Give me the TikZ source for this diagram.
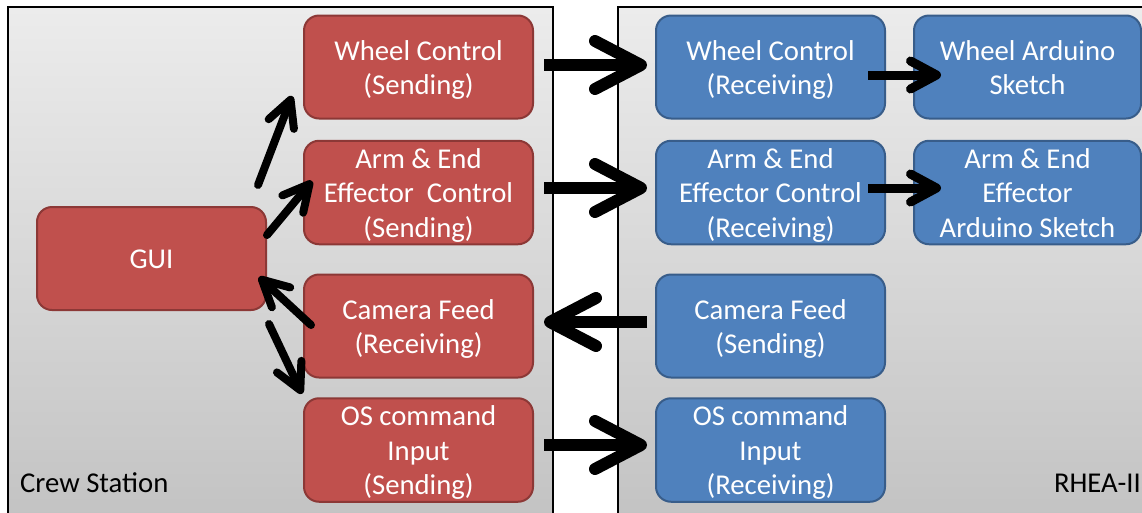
\documentclass[tikz,border=0pt]{standalone}
\usepackage{fontspec}
\setmainfont{Carlito}
\usetikzlibrary{arrows.meta}
\definecolor{redfill}{HTML}{C0504D}
\definecolor{redline}{HTML}{8C3836}
\definecolor{bluefill}{HTML}{4F81BD}
\definecolor{blueline}{HTML}{385D8A}
\definecolor{paneltop}{HTML}{ECECEC}
\definecolor{panelbot}{HTML}{C2C2C2}
\newcommand\bt[1]{\raisebox{-3.5pt}[\height][\depth]{\begin{tabular}{@{}c@{}}#1\end{tabular}}}
\begin{document}
\begin{tikzpicture}[x=1pt,y=-1pt,
  txt/.style={font=\fontsize{28.7}{34.5}\selectfont},
  box/.style={txt, rounded corners=15pt, line width=2pt, minimum width=229pt,
    minimum height=103pt, text=white, inner sep=0pt},
  redbox/.style={box, fill=redfill, draw=redline},
  bluebox/.style={box, fill=bluefill, draw=blueline},
  bigarrow/.style={line width=12pt, -{Straight Barb[length=46pt,width=48pt,round]}},
  smallarrow/.style={line width=9pt, -{Straight Barb[length=26pt,width=28pt,round]}},
  diagarrow/.style={line width=8pt, line cap=round, -{Straight Barb[length=26pt,width=27pt,round]}},
  panel/.style={top color=paneltop, bottom color=panelbot},
  panelline/.style={line width=1.5pt, draw=black}
]
\useasboundingbox (0,0) rectangle (1142,512);
\clip (0,0) rectangle (1142,512);
% panels
\shade[panel] (8,7) rectangle (553,530);
\draw[panelline] (8,530) -- (8,7) -- (553,7) -- (553,530);
\shade[panel] (618,7) rectangle (1160,530);
\draw[panelline] (618,530) -- (618,7) -- (1160,7);
% crew station boxes
\node[redbox] (wcs) at (418.5,67) {\bt{Wheel Control\\(Sending)}};
\node[redbox] (aes) at (418.5,192.5) {\bt{Arm \& End\\Effector~ Control\\(Sending)}};
\node[redbox] (gui) at (151.5,258.5) {\bt{GUI}};
\node[redbox] (cfr) at (418.5,326) {\bt{Camera Feed\\(Receiving)}};
\node[redbox] (osi) at (418.5,450) {\bt{OS command\\Input\\(Sending)}};
% rhea boxes
\node[bluebox] (wcr) at (770.5,67) {\bt{Wheel Control\\(Receiving)}};
\node[bluebox, minimum width=227pt] (was) at (1027.5,67) {\bt{Wheel Arduino\\Sketch}};
\node[bluebox] (aer) at (770.5,192.5) {\bt{Arm \& End\\Effector Control\\(Receiving)}};
\node[bluebox, minimum width=227pt] (aas) at (1027.5,192.5) {\bt{Arm \& End\\Effector\\Arduino Sketch}};
\node[bluebox] (cfs) at (770.5,326) {\bt{Camera Feed\\(Sending)}};
\node[bluebox] (osr) at (770.5,450) {\bt{OS command\\Input\\(Receiving)}};
% labels
\node[txt, anchor=base west, inner sep=0pt] (crew) at (20,492) {Crew Station};
\node[txt, anchor=base east, inner sep=0pt] (rhea) at (1141,492) {RHEA-II};
% horizontal arrows
\draw[bigarrow] ([shift={(10,-2)}]wcs.east) -- ([shift={(-8,-2)}]wcr.west);
\draw[bigarrow] ([shift={(10,-4.5)}]aes.east) -- ([shift={(-8,-4.5)}]aer.west);
\draw[bigarrow] ([shift={(-8,-4)}]cfs.west) -- ([shift={(10,-4)}]cfr.east);
\draw[bigarrow] ([shift={(10,-5)}]osi.east) -- ([shift={(-8,-5)}]osr.west);
\draw[smallarrow] ([shift={(-18,8)}]wcr.east) -- ([shift={(28,8)}]was.west);
\draw[smallarrow] ([shift={(-18,-4.5)}]aer.east) -- ([shift={(28,-4.5)}]aas.west);
% diagonal arrows
\draw[diagarrow] ([shift={(-9,-21)}]gui.north east) -- ([shift={(-11,-23.5)}]wcs.south west);
\draw[diagarrow] ([shift={(0,-23.5)}]gui.east) -- ([shift={(9,-11.5)}]aes.west);
\draw[diagarrow] ([shift={(8,-1)}]cfr.west) -- ([shift={(-8,18.5)}]gui.east);
\draw[diagarrow] ([shift={(2,13)}]gui.south east) -- ([shift={(-1,-3.5)}]osi.north west);
\end{tikzpicture}
\end{document}
